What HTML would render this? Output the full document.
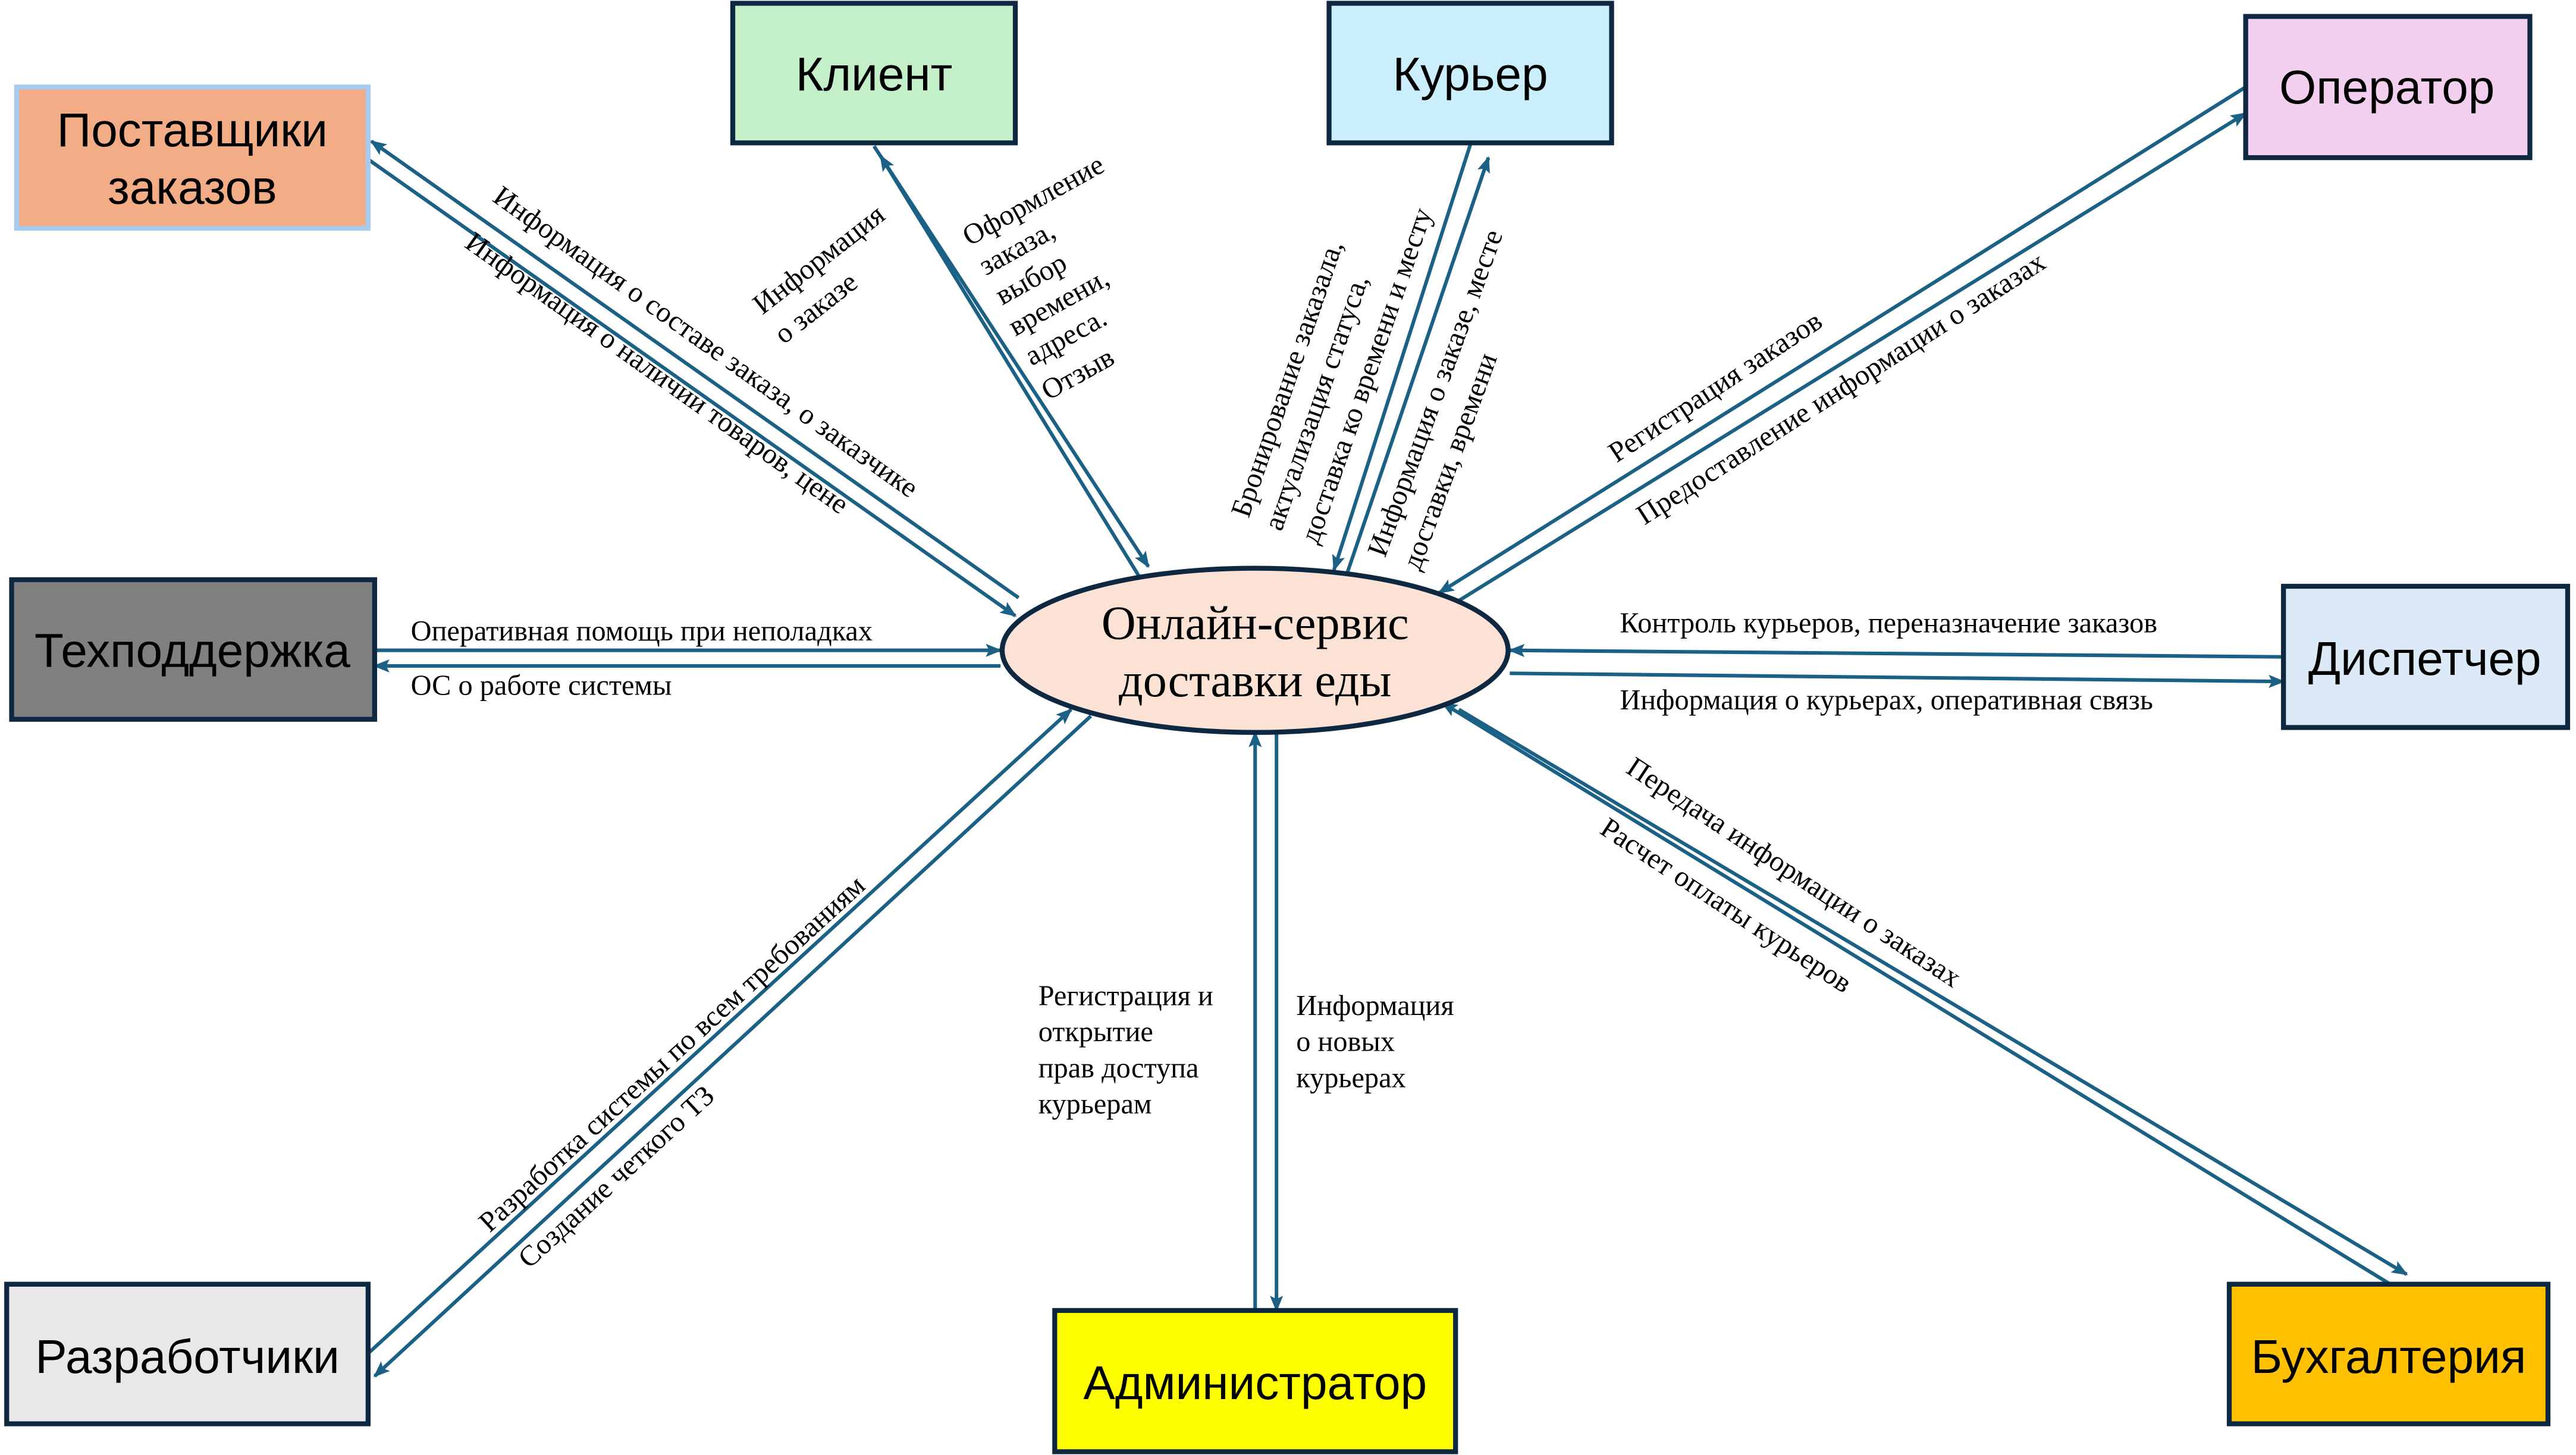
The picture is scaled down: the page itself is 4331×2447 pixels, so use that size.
<!DOCTYPE html>
<html><head><meta charset="utf-8"><style>html,body{margin:0;padding:0;background:#fff}svg{display:block}</style></head>
<body>
<svg xmlns="http://www.w3.org/2000/svg" width="4331" height="2447" viewBox="0 0 1568 886">
<defs>
<marker id="a" markerWidth="10" markerHeight="8" refX="9" refY="4" orient="auto" markerUnits="userSpaceOnUse">
<path d="M0,0 L10,4 L0,8 L2,4 Z" fill="#1B6185"/>
</marker>
</defs>
<rect width="1568" height="886" fill="#fff"/>
<g stroke="#1B6185" stroke-width="2.2" fill="none" marker-end="url(#a)">
<line x1="620" y1="364" x2="226" y2="86"/>
<line x1="224" y1="97" x2="618" y2="375"/>
<line x1="694" y1="352" x2="536" y2="95"/>
<line x1="532" y1="89" x2="699" y2="345"/>
<line x1="895" y1="88" x2="812" y2="347"/>
<line x1="819" y1="352" x2="906" y2="96"/>
<line x1="1367" y1="53" x2="876" y2="361"/>
<line x1="886" y1="367" x2="1367" y2="69"/>
<line x1="228" y1="396" x2="609" y2="396"/>
<line x1="609" y1="405.5" x2="228" y2="405.5"/>
<line x1="1390" y1="400" x2="919" y2="396"/>
<line x1="919" y1="410" x2="1390" y2="415"/>
<line x1="222" y1="826" x2="652" y2="432"/>
<line x1="664" y1="436" x2="228" y2="838"/>
<line x1="764" y1="798" x2="764" y2="446"/>
<line x1="777" y1="446" x2="777" y2="798"/>
<line x1="1455" y1="782" x2="878" y2="428"/>
<line x1="888" y1="432" x2="1465" y2="776"/>
</g>
<g font-family="'Liberation Sans', sans-serif" font-size="29" text-anchor="middle" fill="#000">
<rect x="10" y="53" width="214" height="86" fill="#F2AD87" stroke="#A6CBEF" stroke-width="3"/>
<text x="117" y="89">Поставщики</text><text x="117" y="124">заказов</text>
<rect x="446" y="2" width="172" height="85" fill="#C3F0C8" stroke="#0E2841" stroke-width="3"/>
<text x="532" y="55">Клиент</text>
<rect x="809" y="2" width="172" height="85" fill="#CAEEFB" stroke="#0E2841" stroke-width="3"/>
<text x="895" y="55">Курьер</text>
<rect x="1367" y="10" width="173" height="86" fill="#F2CFEE" stroke="#0E2841" stroke-width="3"/>
<text x="1453" y="63">Оператор</text>
<rect x="7" y="353" width="221" height="85" fill="#808080" stroke="#0E2841" stroke-width="3"/>
<text x="117" y="406">Техподдержка</text>
<rect x="1390" y="357" width="173" height="86" fill="#DCE9F6" stroke="#0E2841" stroke-width="3"/>
<text x="1476" y="411">Диспетчер</text>
<rect x="4" y="782" width="220" height="85" fill="#E8E8E8" stroke="#0E2841" stroke-width="3"/>
<text x="114" y="836">Разработчики</text>
<rect x="642" y="798" width="244" height="86" fill="#FFFF00" stroke="#0E2841" stroke-width="3"/>
<text x="764" y="852">Администратор</text>
<rect x="1357" y="782" width="194" height="85" fill="#FFC000" stroke="#0E2841" stroke-width="3"/>
<text x="1454" y="836">Бухгалтерия</text>
</g>
<ellipse cx="764" cy="396" rx="154" ry="50" fill="#FBE2D5" stroke="#0E2841" stroke-width="3"/>
<g font-family="'Liberation Serif', serif" font-size="29" text-anchor="middle">
<text x="764" y="389">Онлайн-сервис</text><text x="764" y="424">доставки еды</text>
</g>
<g font-family="'Liberation Serif', serif" font-size="17.5" fill="#000">
<text transform="translate(299,122) rotate(35.5)">Информация о составе заказа, о заказчике</text>
<text transform="translate(282,150) rotate(35.5)">Информация о наличии товаров, цене</text>
<text transform="translate(464,192) rotate(-38)">Информация</text>
<text transform="translate(477,210) rotate(-38)">о заказе</text>
<text transform="translate(590,150) rotate(-29)">Оформление</text>
<text transform="translate(600,168) rotate(-29)">заказа,</text>
<text transform="translate(610,186) rotate(-29)">выбор</text>
<text transform="translate(618,205) rotate(-29)">времени,</text>
<text transform="translate(628,223) rotate(-29)">адреса.</text>
<text transform="translate(638,244) rotate(-29)">Отзыв</text>
<text transform="translate(760,316) rotate(-71)">Бронирование заказала,</text>
<text transform="translate(780,324) rotate(-71)">актуализация статуса,</text>
<text transform="translate(802,332) rotate(-71)">доставка ко времени и месту</text>
<text transform="translate(843,340) rotate(-70)">Информация о заказе, месте</text>
<text transform="translate(864,348) rotate(-70)">доставки, времени</text>
<text transform="translate(984,282) rotate(-33.5)">Регистрация заказов</text>
<text transform="translate(1001,320) rotate(-32.7)">Предоставление информации о заказах</text>
<text x="986" y="385">Контроль курьеров, переназначение заказов</text>
<text x="986" y="432">Информация о курьерах, оперативная связь</text>
<text x="250" y="390">Оперативная помощь при неполадках</text>
<text x="250" y="423">ОС о работе системы</text>
<text transform="translate(989,470) rotate(33.4)">Передача информации о заказах</text>
<text transform="translate(973,507) rotate(33.3)">Расчет оплаты курьеров</text>
<text x="632" y="612">Регистрация и</text>
<text x="632" y="634">открытие</text>
<text x="632" y="656">прав доступа</text>
<text x="632" y="678">курьерам</text>
<text x="789" y="618">Информация</text>
<text x="789" y="640">о новых</text>
<text x="789" y="662">курьерах</text>
<text transform="translate(298,751) rotate(-42.5)">Разработка системы по всем требованиям</text>
<text transform="translate(322,773) rotate(-42.5)">Создание четкого ТЗ</text>
</g>
</svg>
</body></html>
